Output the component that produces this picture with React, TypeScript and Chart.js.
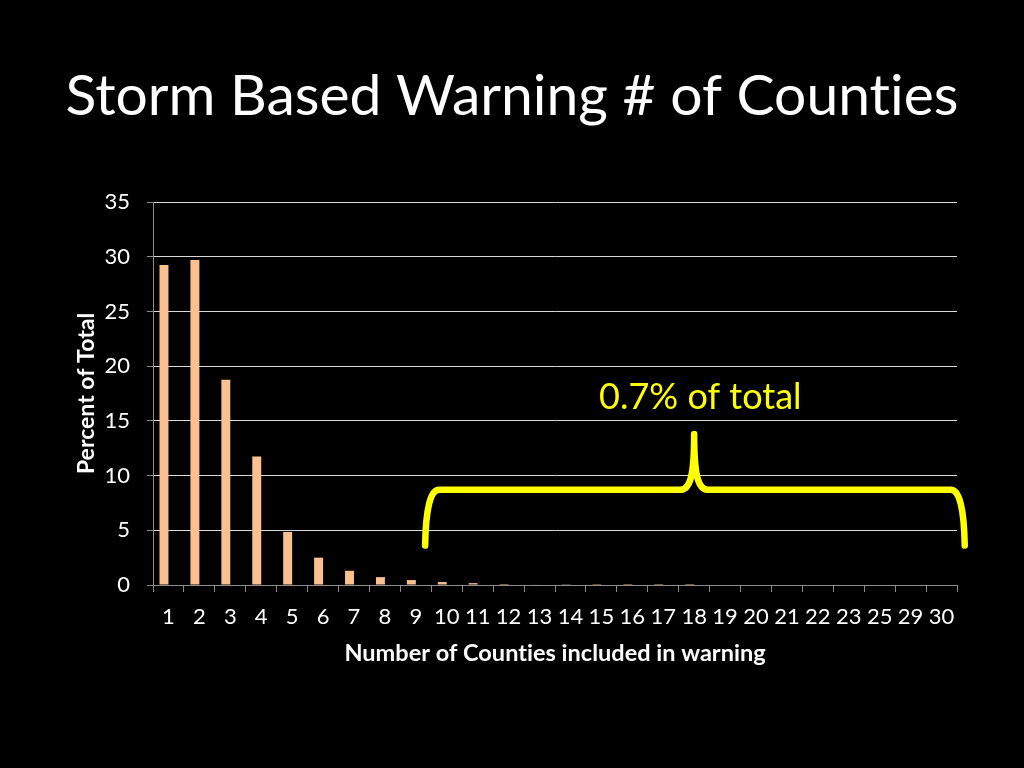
import { useEffect, useRef } from "react";
import { Chart, registerables } from "chart.js";

Chart.register(...registerables);

const TITLE = "Storm Based Warning # of Counties";
const X_TITLE = "Number of Counties included in warning";
const Y_TITLE = "Percent of Total";
const NOTE = "0.7% of total";

const categories = [
  "1", "2", "3", "4", "5", "6", "7", "8", "9", "10", "11", "12", "13",
  "14", "15", "16", "17", "18", "19", "20", "21", "22", "23", "25", "29", "30",
];
const percentOfTotal = [
  29.25, 29.7, 18.75, 11.75, 4.85, 2.5, 1.3, 0.72, 0.45, 0.27, 0.17, 0.09, 0.05,
  0.02, 0.01, 0.005, 0.004, 0.003, 0, 0, 0, 0, 0, 0, 0, 0,
];
// Excel's chart reserves a slot for a second (empty) series in each category
const emptySeries = categories.map(() => null);
const yTicks = [0, 5, 10, 15, 20, 25, 30, 35];

// Brace annotation, in data units (category index / percent)
const braceStart = 8.3;
const braceEnd = 25.75;
const braceTip = 17.0;
const braceLevel = 8.7;
const braceTop = 13.8;
const braceBottom = 3.6;
const noteX = 17.2;
const noteY = 17.1;

const FONT = "Lato, 'Open Sans', sans-serif";

// a tiny letter spacing stops Lato from drawing its "ti" ligature
const noLigaturePlugin = {
  id: "noLigature",
  beforeDraw(chart: any) {
    chart.ctx.letterSpacing = "0.01px";
  },
};

const bracePlugin = {
  id: "brace",
  afterDraw(chart: any) {
    const { ctx } = chart;
    const xs = chart.scales.x;
    const ys = chart.scales.y;
    const px = (v: number) => {
      const a = xs.getPixelForValue(0);
      const b = xs.getPixelForValue(1);
      return a + (b - a) * v;
    };
    const xL = px(braceStart);
    const xR = px(braceEnd);
    const xT = px(braceTip);
    const yF = ys.getPixelForValue(braceLevel);
    const yT = ys.getPixelForValue(braceTop);
    const yB = ys.getPixelForValue(braceBottom);
    ctx.save();
    ctx.strokeStyle = "#ffff00";
    ctx.lineWidth = 6.5;
    ctx.lineCap = "round";
    ctx.lineJoin = "round";
    ctx.beginPath();
    ctx.moveTo(xL, yB);
    ctx.quadraticCurveTo(xL + 1, yF, xL + 14, yF);
    ctx.lineTo(xT - 14, yF);
    ctx.bezierCurveTo(xT - 4, yF, xT, yF - 14, xT, yT);
    ctx.bezierCurveTo(xT, yF - 14, xT + 4, yF, xT + 14, yF);
    ctx.lineTo(xR - 14, yF);
    ctx.quadraticCurveTo(xR - 1, yF, xR, yB);
    ctx.stroke();
    ctx.fillStyle = "#ffff00";
    ctx.font = `36px ${FONT}`;
    ctx.textAlign = "center";
    ctx.textBaseline = "middle";
    ctx.fillText(NOTE, px(noteX), ys.getPixelForValue(noteY));
    ctx.restore();
  },
};

export default function App() {
  const ref = useRef<HTMLCanvasElement | null>(null);
  useEffect(() => {
    if (!ref.current) return;
    const chart = new Chart(ref.current, {
      type: "bar",
      data: {
        labels: categories,
        datasets: [
          {
            data: percentOfTotal,
            backgroundColor: "#fac090",
            borderWidth: 0,
            barPercentage: 1,
            categoryPercentage: 0.58,
          },
          {
            data: emptySeries,
            backgroundColor: "#fac090",
            borderWidth: 0,
            barPercentage: 1,
            categoryPercentage: 0.58,
          },
        ],
      },
      options: {
        responsive: false,
        animation: false,
        layout: { padding: 0 },
        plugins: {
          legend: { display: false },
          tooltip: { enabled: false },
          title: {
            display: true,
            text: TITLE,
            color: "#ffffff",
            font: { family: FONT, size: 57, weight: "normal", lineHeight: 1.2 },
            padding: { top: 62, bottom: 71.6 },
          },
        },
        scales: {
          x: {
            afterFit: (s: any) => {
              s.height = 183;
            },
            grid: {
              display: true,
              drawOnChartArea: false,
              drawTicks: true,
              tickLength: 7,
              color: "#8c8c8c",
              tickColor: "#8c8c8c",
              offset: true,
            },
            border: { color: "#8c8c8c", width: 1 },
            ticks: {
              color: "#ffffff",
              font: { family: FONT, size: 22 },
              padding: 12,
              maxRotation: 0,
              autoSkip: false,
            },
            title: {
              display: true,
              text: X_TITLE,
              color: "#ffffff",
              font: { family: FONT, size: 23.5, weight: "bold", lineHeight: 1.2 },
              padding: { top: 0, bottom: 100 },
            },
          },
          y: {
            min: 0,
            max: 35,
            afterFit: (s: any) => {
              s.width = 153;
            },
            afterBuildTicks: (s: any) => {
              s.ticks = yTicks.map((v) => ({ value: v }));
            },
            grid: {
              color: "#d9d9d9",
              tickColor: "#8c8c8c",
              tickLength: 6,
              lineWidth: 1,
            },
            border: { color: "#8c8c8c", width: 1 },
            ticks: {
              color: "#ffffff",
              font: { family: FONT, size: 22 },
              padding: 17,
            },
            title: {
              display: true,
              text: Y_TITLE,
              color: "#ffffff",
              font: { family: FONT, size: 23, weight: "bold", lineHeight: 1.2 },
              padding: { top: 73, bottom: 0 },
            },
          },
          // empty right-hand margin of the plot
          yRight: {
            position: "right",
            display: true,
            min: 0,
            max: 35,
            afterFit: (s: any) => {
              s.width = 67;
            },
            grid: { display: false, drawOnChartArea: false },
            border: { display: false },
            ticks: { display: false },
          },
        },
      },
      plugins: [noLigaturePlugin, bracePlugin],
    });
    return () => chart.destroy();
  }, []);
  return (
    <div style={{ position: "fixed", left: 0, top: 0, width: 1024, height: 768, background: "#000" }}>
      <canvas ref={ref} width={1024} height={768} style={{ display: "block" }} />
    </div>
  );
}
